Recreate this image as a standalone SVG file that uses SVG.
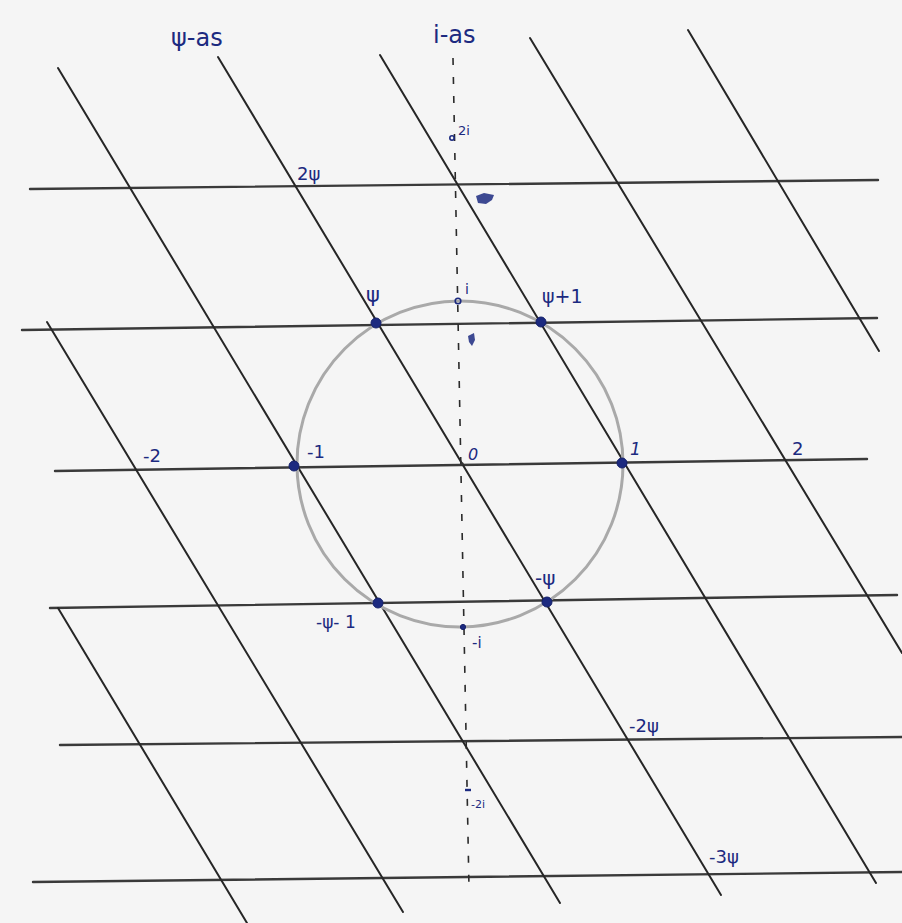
<svg xmlns="http://www.w3.org/2000/svg" width="902" height="923" viewBox="0 0 902 923">
<style>
.h{stroke:#3a3a3a;stroke-width:2.4;fill:none;stroke-linecap:round}
.d{stroke:#262626;stroke-width:2;fill:none;stroke-linecap:round}
.ax{stroke:#2a2a2a;stroke-width:1.6;fill:none;stroke-dasharray:7 12}
.c{stroke:#a9a9a9;stroke-width:3;fill:none}
.p{fill:#1c2a80;stroke:#14206a;stroke-width:1}
.o{fill:none;stroke:#1c2a80;stroke-width:1.6}
text{font-family:"DejaVu Sans","Liberation Sans",sans-serif;fill:#1c2a80}
</style>
<rect width="902" height="923" fill="#f5f5f5"/>
<g id="connectors">
  <line class="h" x1="30" y1="189" x2="878" y2="180"/>
  <line class="h" x1="22" y1="330" x2="877" y2="318"/>
  <line class="h" x1="55" y1="471" x2="867" y2="459"/>
  <line class="h" x1="50" y1="608" x2="897" y2="595"/>
  <line class="h" x1="60" y1="745" x2="902" y2="737"/>
  <line class="h" x1="33" y1="882" x2="902" y2="872"/>
  <line class="d" x1="47" y1="322" x2="403" y2="912"/>
  <line class="d" x1="58" y1="608" x2="247" y2="923"/>
  <line class="d" x1="58" y1="68" x2="560" y2="903"/>
  <line class="d" x1="218" y1="57" x2="721" y2="895"/>
  <line class="d" x1="380" y1="55" x2="876" y2="883"/>
  <line class="d" x1="530" y1="38" x2="902" y2="653"/>
  <line class="d" x1="688" y1="30" x2="879" y2="351"/>
  <line class="ax" x1="453" y1="58" x2="469" y2="888"/>
  <circle class="c" cx="460" cy="464" r="163"/>
</g>
<g id="axis-labels">
  <text x="171" y="46" font-size="24">ψ-as</text>
  <text x="433" y="43" font-size="24">i-as</text>
</g>
<g id="n-2psi"><text x="297" y="180" font-size="18">2ψ</text></g>
<g id="n-2i"><circle class="o" cx="452" cy="138" r="2.2"/><text x="458" y="135" font-size="13">2i</text></g>
<g id="n-psi"><circle class="p" cx="376" cy="323" r="5"/><text x="366" y="302" font-size="21">ψ</text></g>
<g id="n-i"><circle class="o" cx="458" cy="301" r="2.8"/><text x="465" y="294" font-size="14">i</text></g>
<g id="n-psi1"><circle class="p" cx="541" cy="322" r="5"/><text x="542" y="303" font-size="19">ψ+1</text></g>
<g id="n-m2"><text x="143" y="462" font-size="18">-2</text></g>
<g id="n-m1"><circle class="p" cx="294" cy="466" r="5"/><text x="307" y="458" font-size="18">-1</text></g>
<g id="n-0"><circle cx="462" cy="464" r="1.8" fill="#333"/><text x="468" y="460" font-size="16" font-style="italic">0</text></g>
<g id="n-1"><circle class="p" cx="622" cy="463" r="5"/><text x="630" y="455" font-size="17" font-style="italic">1</text></g>
<g id="n-2"><text x="792" y="455" font-size="18">2</text></g>
<g id="n-mpsi"><circle class="p" cx="547" cy="602" r="5"/><text x="535" y="585" font-size="20">-ψ</text></g>
<g id="n-mpsi1"><circle class="p" cx="378" cy="603" r="5"/><text x="316" y="628" font-size="17">-ψ- 1</text></g>
<g id="n-mi"><circle class="p" cx="463" cy="627" r="2.6"/><text x="472" y="648" font-size="15">-i</text></g>
<g id="n-m2psi"><text x="629" y="732" font-size="18">-2ψ</text></g>
<g id="n-m2i"><line x1="465" y1="790" x2="471" y2="790" stroke="#1c2a80" stroke-width="2.4"/><text x="471" y="808" font-size="11">-2i</text></g>
<g id="n-m3psi"><text x="709" y="863" font-size="18">-3ψ</text></g>
<g id="marks">
  <path d="M476 196 L484 193 L494 195 L492 200 L486 204 L478 203 Z" fill="#1c2a80" opacity="0.85"/>
  <path d="M468 336 L474 333 L475 340 L472 346 L469 342 Z" fill="#1c2a80" opacity="0.85"/>
</g>
</svg>
